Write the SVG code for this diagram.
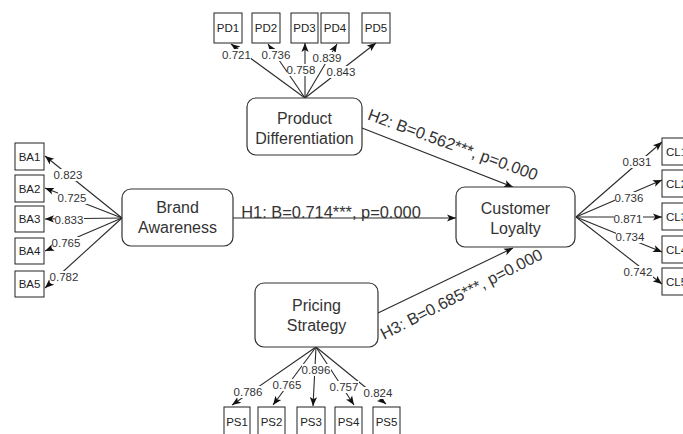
<svg xmlns="http://www.w3.org/2000/svg" width="683" height="434" viewBox="0 0 683 434">
  <style>
    .node rect { fill: #ffffff; stroke: #333333; stroke-width: 1.2; }
    .ind rect { fill: #ffffff; stroke: #222222; stroke-width: 1; }
    .nt { font-family: "Liberation Sans", Arial, sans-serif; font-size: 16px; fill: #333333; text-anchor: middle; }
    .it { font-family: "Liberation Sans", Arial, sans-serif; font-size: 11.5px; fill: #222222; text-anchor: middle; }
    .edge line { stroke: #2a2a2a; stroke-width: 1.1; fill: none; marker-end: url(#arr); }
    .lbg { fill: #ffffff; }
    .lt { font-family: "Liberation Sans", Arial, sans-serif; font-size: 11.5px; fill: #333333; text-anchor: middle; }
    .ht { font-family: "Liberation Sans", Arial, sans-serif; font-size: 16.4px; fill: #333333; text-anchor: middle; }
  </style>
  <defs>
    <marker id="arr" viewBox="0 0 10 10" refX="10" refY="5" markerWidth="9" markerHeight="9" markerUnits="userSpaceOnUse" orient="auto">
      <path d="M0,1 L10,5 L0,9 L2.5,5 z" fill="#111111"/>
    </marker>
  </defs>
  <rect width="683" height="434" fill="#ffffff"/>

  <!-- connectors -->
  <g id="connectors" class="edge">
    <!-- hypotheses -->
    <line x1="233" y1="218" x2="456" y2="218"/>
    <line x1="362" y1="128" x2="513" y2="187"/>
    <line x1="378" y1="313" x2="513" y2="248"/>
    <!-- PD loadings -->
    <line x1="305" y1="98" x2="231" y2="44"/>
    <line x1="305" y1="98" x2="268" y2="44"/>
    <line x1="305" y1="98" x2="305" y2="43"/>
    <line x1="305" y1="98" x2="337" y2="44"/>
    <line x1="305" y1="98" x2="376" y2="43"/>
    <!-- BA loadings -->
    <line x1="122" y1="218" x2="45" y2="156"/>
    <line x1="122" y1="218" x2="45" y2="188"/>
    <line x1="122" y1="218" x2="45" y2="219"/>
    <line x1="122" y1="218" x2="45" y2="251"/>
    <line x1="122" y1="218" x2="45" y2="288"/>
    <!-- CL loadings -->
    <line x1="576" y1="217" x2="662" y2="142"/>
    <line x1="576" y1="217" x2="662" y2="180"/>
    <line x1="576" y1="217" x2="662" y2="217"/>
    <line x1="576" y1="217" x2="662" y2="252"/>
    <line x1="576" y1="217" x2="662" y2="284"/>
    <!-- PS loadings -->
    <line x1="316" y1="347" x2="232" y2="405"/>
    <line x1="316" y1="347" x2="273" y2="405"/>
    <line x1="316" y1="347" x2="313" y2="406"/>
    <line x1="316" y1="347" x2="354" y2="405"/>
    <line x1="316" y1="347" x2="386" y2="404"/>
  </g>

  <!-- edge labels -->
  <g id="edge-labels">
    <text class="ht" x="331" y="218">H1: B=0.714***, p=0.000</text>
    <text class="ht" transform="translate(451,150) rotate(20)">H2: B=0.562***, p=0.000</text>
    <text class="ht" transform="translate(464,299) rotate(-27)">H3: B=0.685***, p=0.000</text>

    <rect class="lbg" x="222" y="49" width="29" height="12"/><text class="lt" x="236.5" y="59">0.721</text>
    <rect class="lbg" x="262" y="49" width="29" height="12"/><text class="lt" x="276" y="59">0.736</text>
    <rect class="lbg" x="287" y="64" width="29" height="12"/><text class="lt" x="301" y="74">0.758</text>
    <rect class="lbg" x="313" y="52" width="29" height="12"/><text class="lt" x="327" y="62">0.839</text>
    <rect class="lbg" x="327" y="66" width="29" height="12"/><text class="lt" x="341" y="76">0.843</text>

    <rect class="lbg" x="54" y="169" width="29" height="12"/><text class="lt" x="68" y="179">0.823</text>
    <rect class="lbg" x="58" y="192" width="29" height="12"/><text class="lt" x="72" y="202">0.725</text>
    <rect class="lbg" x="55" y="214" width="29" height="12"/><text class="lt" x="69" y="224">0.833</text>
    <rect class="lbg" x="52" y="237" width="29" height="12"/><text class="lt" x="66" y="247">0.765</text>
    <rect class="lbg" x="50" y="271" width="29" height="12"/><text class="lt" x="64" y="281">0.782</text>

    <rect class="lbg" x="623" y="156" width="29" height="12"/><text class="lt" x="637" y="166">0.831</text>
    <rect class="lbg" x="615" y="192" width="29" height="12"/><text class="lt" x="629" y="202">0.736</text>
    <rect class="lbg" x="614" y="213" width="29" height="12"/><text class="lt" x="628" y="223">0.871</text>
    <rect class="lbg" x="616" y="231" width="29" height="12"/><text class="lt" x="630" y="241">0.734</text>
    <rect class="lbg" x="624" y="266" width="29" height="12"/><text class="lt" x="638" y="276">0.742</text>

    <rect class="lbg" x="234" y="386" width="29" height="12"/><text class="lt" x="248" y="396">0.786</text>
    <rect class="lbg" x="273" y="379" width="29" height="12"/><text class="lt" x="287" y="389">0.765</text>
    <rect class="lbg" x="302" y="364" width="29" height="12"/><text class="lt" x="316" y="374">0.896</text>
    <rect class="lbg" x="330" y="381" width="29" height="12"/><text class="lt" x="344" y="391">0.757</text>
    <rect class="lbg" x="364" y="387" width="29" height="12"/><text class="lt" x="378" y="397">0.824</text>
  </g>

  <!-- latent constructs -->
  <g id="product-differentiation" class="node">
    <rect x="247" y="98" width="115" height="57" rx="9"/>
    <text class="nt" x="304.5" y="123.5">Product</text>
    <text class="nt" x="304.5" y="143.5">Differentiation</text>
  </g>
  <g id="brand-awareness" class="node">
    <rect x="122" y="189" width="111" height="57" rx="9"/>
    <text class="nt" x="177.5" y="213">Brand</text>
    <text class="nt" x="177.5" y="233">Awareness</text>
  </g>
  <g id="customer-loyalty" class="node">
    <rect x="456" y="187" width="119" height="60" rx="9"/>
    <text class="nt" x="515.5" y="213.5">Customer</text>
    <text class="nt" x="515.5" y="233.5">Loyalty</text>
  </g>
  <g id="pricing-strategy" class="node">
    <rect x="255" y="283" width="123" height="64" rx="9"/>
    <text class="nt" x="316.5" y="310.5">Pricing</text>
    <text class="nt" x="316.5" y="330.5">Strategy</text>
  </g>

  <!-- indicators -->
  <g id="PD1" class="ind"><rect x="214" y="13" width="28" height="30"/><text class="it" x="228" y="32">PD1</text></g>
  <g id="PD2" class="ind"><rect x="252" y="13" width="28" height="30"/><text class="it" x="266" y="32">PD2</text></g>
  <g id="PD3" class="ind"><rect x="291" y="13" width="27" height="30"/><text class="it" x="304.5" y="32">PD3</text></g>
  <g id="PD4" class="ind"><rect x="321" y="13" width="28" height="30"/><text class="it" x="335" y="32">PD4</text></g>
  <g id="PD5" class="ind"><rect x="362" y="13" width="28" height="30"/><text class="it" x="376" y="32">PD5</text></g>

  <g id="BA1" class="ind"><rect x="15" y="143" width="29" height="27"/><text class="it" x="29.5" y="160.5">BA1</text></g>
  <g id="BA2" class="ind"><rect x="15" y="175" width="29" height="27"/><text class="it" x="29.5" y="192.5">BA2</text></g>
  <g id="BA3" class="ind"><rect x="15" y="206" width="29" height="26"/><text class="it" x="29.5" y="223">BA3</text></g>
  <g id="BA4" class="ind"><rect x="15" y="238" width="29" height="26"/><text class="it" x="29.5" y="255">BA4</text></g>
  <g id="BA5" class="ind"><rect x="15" y="271" width="29" height="26"/><text class="it" x="29.5" y="288">BA5</text></g>

  <g id="CL1" class="ind"><rect x="662" y="138" width="29" height="27"/><text class="it" x="676.5" y="155.5">CL1</text></g>
  <g id="CL2" class="ind"><rect x="662" y="170" width="29" height="27"/><text class="it" x="676.5" y="187.5">CL2</text></g>
  <g id="CL3" class="ind"><rect x="662" y="203" width="29" height="27"/><text class="it" x="676.5" y="220.5">CL3</text></g>
  <g id="CL4" class="ind"><rect x="662" y="236" width="29" height="27"/><text class="it" x="676.5" y="253.5">CL4</text></g>
  <g id="CL5" class="ind"><rect x="662" y="268" width="29" height="27"/><text class="it" x="676.5" y="285.5">CL5</text></g>

  <g id="PS1" class="ind"><rect x="224" y="407" width="26" height="30"/><text class="it" x="237" y="426">PS1</text></g>
  <g id="PS2" class="ind"><rect x="258" y="407" width="27" height="30"/><text class="it" x="271.5" y="426">PS2</text></g>
  <g id="PS3" class="ind"><rect x="297" y="407" width="28" height="30"/><text class="it" x="311" y="426">PS3</text></g>
  <g id="PS4" class="ind"><rect x="335" y="407" width="27" height="30"/><text class="it" x="348.5" y="426">PS4</text></g>
  <g id="PS5" class="ind"><rect x="373" y="407" width="27" height="30"/><text class="it" x="386.5" y="426">PS5</text></g>
</svg>
